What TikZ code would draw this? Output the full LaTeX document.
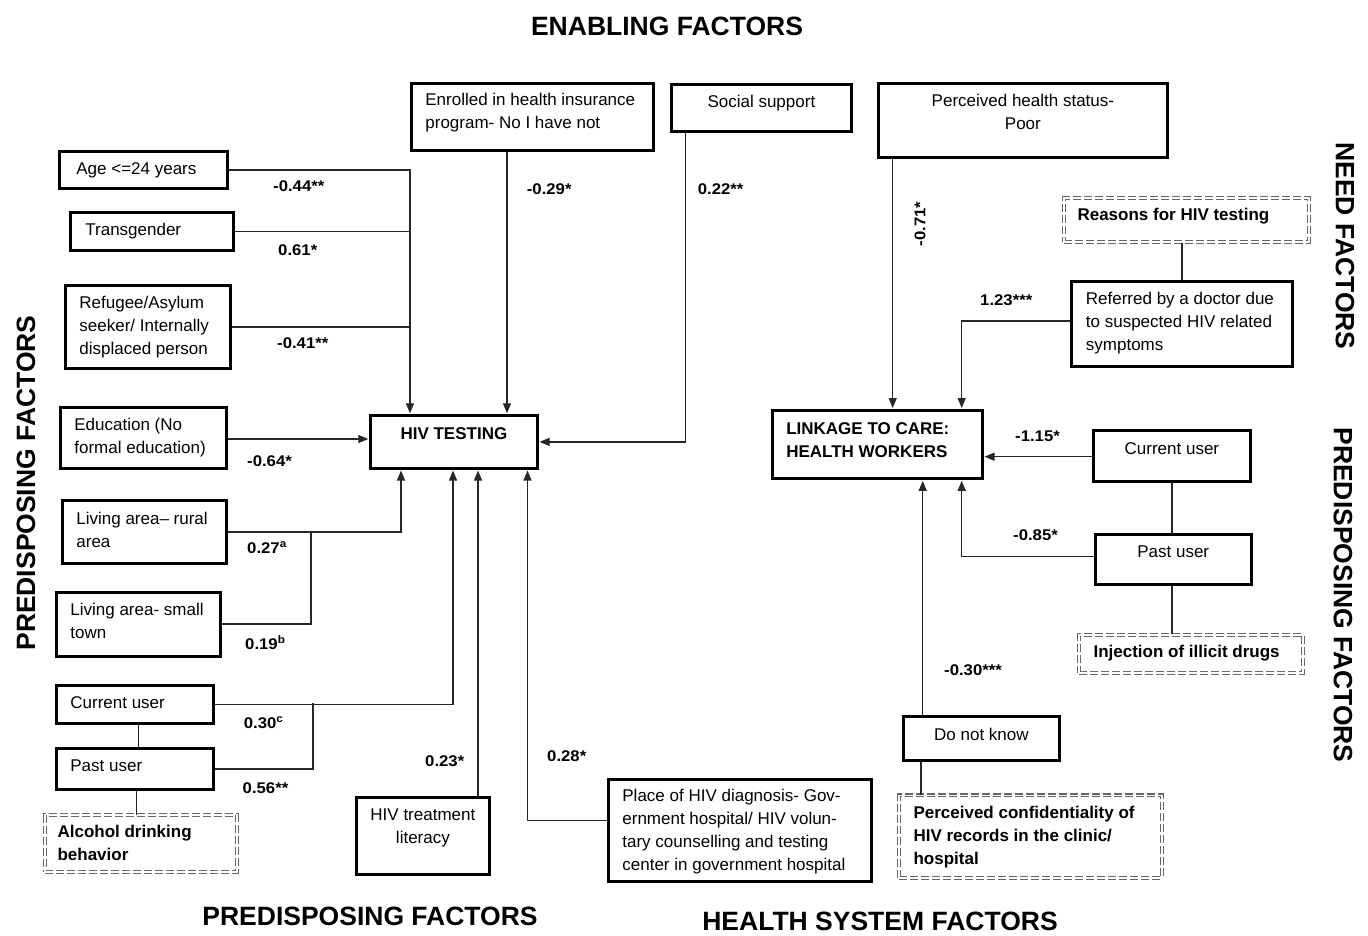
\documentclass[tikz,border=0pt]{standalone}
\usepackage{fontspec}
\setmainfont{Liberation Sans}
\newfontfamily\lblfamily{Liberation Sans}[FakeStretch=1.08]
\usetikzlibrary{arrows.meta,calc}
\newcommand{\bodyf}{\fontsize{17}{23}\selectfont}
\newcommand{\lblf}{\lblfamily\bfseries\fontsize{15.5}{18}\selectfont}
\newcommand{\ttlf}{\bfseries\fontsize{26.5}{30}\selectfont}
% left-aligned box text: width, height, padleft, baseline offset, text
\newcommand{\btl}[5]{\parbox[c][#2pt][t]{#1pt}{\vspace*{\dimexpr#4pt-14pt\relax}\raggedright\leftskip=#3pt\relax\hyphenpenalty=10000 \rule{0pt}{14pt}#5\par}}
% centred box text: width, height, baseline offset, text
\newcommand{\btc}[4]{\parbox[c][#2pt][t]{#1pt}{\vspace*{\dimexpr#3pt-14pt\relax}\centering\hyphenpenalty=10000 \rule{0pt}{14pt}#4\par}}
\begin{document}
\begin{tikzpicture}[x=1pt,y=-1pt,
  box/.style={draw=black, line width=2.8pt, inner sep=0pt, anchor=north west, font=\bodyf},
  bbox/.style={box, font=\bodyf\bfseries},
  dbox/.style={draw=black!60, double=white, double distance=1.8pt, line width=1.1pt,
               dash pattern=on 8pt off 3pt, inner sep=0pt, anchor=north west, font=\bodyf\bfseries},
  lbl/.style={inner sep=0pt, anchor=base west, font=\lblf},
  ttl/.style={inner sep=0pt, font=\ttlf},
  conn/.style={draw=black!85, line width=1.2pt},
  arr/.style={-{Triangle[length=10pt,width=8pt]}, shorten >=1pt}]
\useasboundingbox (0,0) rectangle (1368,935);
\fill[white] (0,0) rectangle (1368,935);

% titles
\node[ttl, anchor=base] (tEnab) at (667,35) {ENABLING FACTORS};
\node[ttl, rotate=90] (tPredL) at (26,483) {PREDISPOSING FACTORS};
\node[ttl, rotate=-90] (tNeed) at (1345,246) {NEED FACTORS};
\node[ttl, rotate=-90] (tPredR) at (1343,595) {PREDISPOSING FACTORS};
\node[ttl, anchor=base] (tPredB) at (370,925) {PREDISPOSING FACTORS};
\node[ttl, anchor=base] (tHealth) at (880,930) {HEALTH SYSTEM FACTORS};

% left predisposing boxes
\node[box] (age) at (58.3,150.3) {\btl{167.4}{36.4}{16.7}{22.7}{Age <=24 years}};
\node[box] (trans) at (69.3,211.3) {\btl{162.4}{37.4}{14.7}{22.7}{Transgender}};
\node[box] (refugee) at (64.3,284.3) {\btl{164.4}{82.4}{13.7}{22.7}{Refugee/Asylum\\seeker/ Internally\\displaced person}};
\node[box] (edu) at (59.3,406.3) {\btl{165.4}{60.4}{13.7}{22.7}{Education (No\\formal education)}};
\node[box] (rural) at (61.3,499.3) {\btl{163.4}{62.4}{13.7}{23.7}{Living area– rural\\area}};
\node[box] (town) at (55.3,591.3) {\btl{163.4}{63.4}{13.7}{22.7}{Living area- small\\town}};
\node[box] (curL) at (55.3,684.3) {\btl{156.4}{37.4}{13.7}{22.7}{Current user}};
\node[box] (pastL) at (55.3,747.3) {\btl{156.4}{40.4}{13.7}{22.7}{Past user}};
\node[dbox] (alcohol) at (44.6,814.6) {\btl{191.8}{56.8}{12.4}{22.4}{Alcohol drinking\\behavior}};

% bottom boxes
\node[box] (literacy) at (355.3,796.3) {\btc{132.4}{76.4}{22.7}{HIV treatment\\literacy}};
\node[box] (place) at (607.3,778.3) {\btl{262.4}{101.4}{13.7}{21.7}{Place of HIV diagnosis- Gov-\\ernment hospital/ HIV volun-\\tary counselling and testing\\center in government hospital}};

% outcome boxes
\node[bbox] (hiv) at (369.3,414.3) {\btc{166.4}{52.4}{23.7}{HIV TESTING}};
\node[bbox] (linkage) at (770.9,409) {\btl{209.8}{68}{14}{24}{LINKAGE TO CARE:\\HEALTH WORKERS}};

% enabling / need boxes
\node[box] (enrolled) at (410.3,82.3) {\btl{241.4}{66.4}{13.7}{22}{Enrolled in health insurance\\program- No I have not}};
\node[box] (social) at (670.3,83.3) {\btc{179.4}{46.4}{22.7}{Social support}};
\node[box] (perceived) at (877.3,82.3) {\btc{288.4}{73.4}{22.7}{Perceived health status-\\Poor}};
\node[dbox] (reasons) at (1063.6,197.6) {\btl{244.8}{43.8}{13.4}{22.4}{Reasons for HIV testing}};
\node[box] (referred) at (1070.3,280.3) {\btl{220.4}{84.4}{14.2}{23}{Referred by a doctor due\\to suspected HIV related\\symptoms}};

% right predisposing / health system boxes
\node[box] (curR) at (1092.3,429.3) {\btc{156.4}{51}{23.7}{Current user}};
\node[box] (pastR) at (1094,533) {\btc{155.7}{49.7}{22.7}{Past user}};
\node[dbox] (inject) at (1078.6,634.3) {\btl{223.8}{38.1}{14.4}{22.7}{Injection of illicit drugs}};
\node[box] (dontknow) at (902.3,715.3) {\btc{155.4}{43.4}{23.7}{Do not know}};
\node[dbox] (conf) at (898.6,794.9) {\btl{262.5}{82.5}{14.4}{23.1}{Perceived confidentiality of\\HIV records in the clinic/\\hospital}};

% junctions
\coordinate (j1) at (311,532);
\coordinate (j2) at (313,703);

% connectors to HIV testing
\draw[conn,arr] (age.east) -| (hiv.north -| 410,0);
\draw[conn] (trans.east) -- (trans.east -| 410,0);
\draw[conn] (refugee.east) -- (refugee.east -| 410,0);
\draw[conn,arr] (enrolled.south -| 507,0) -- (hiv.north -| 507,0);
\draw[conn,arr] (social.south -| 685.7,0) |- (hiv.east);
\draw[conn,arr] (edu.east |- 0,439) -- (hiv.west |- 0,439);
\draw[conn,arr] (rural.east |- 0,532) -| (hiv.south -| 401,0);
\draw[conn] (town.east |- 0,624) -| (j1);
\draw[conn,arr] (curL.east) -| (hiv.south -| 453,0);
\draw[conn] (pastL.east |- 0,769) -| (j2);
\draw[conn] (curL.south -| 138.6,0) -- (pastL.north -| 138.6,0);
\draw[conn] (pastL.south -| 136.4,0) -- (alcohol.north -| 136.4,0);
\draw[conn,arr] (literacy.north -| 478,0) -- (hiv.south -| 478,0);
\draw[conn,arr] (place.west |- 0,820.7) -| (hiv.south -| 527.5,0);

% connectors to linkage
\draw[conn,arr] (perceived.south -| 892.7,0) -- (linkage.north -| 892.7,0);
\draw[conn] (reasons.south -| 1182,0) -- (referred.north -| 1182,0);
\draw[conn,arr] (referred.west |- 0,321) -| (linkage.north -| 961.7,0);
\draw[conn,arr] (curR.west |- 0,456.7) -- (linkage.east |- 0,456.7);
\draw[conn] (curR.south -| 1172,0) -- (pastR.north -| 1172,0);
\draw[conn,arr] (pastR.west |- 0,556.7) -| (linkage.south -| 961.7,0);
\draw[conn] (pastR.south -| 1172,0) -- (inject.north -| 1172,0);
\draw[conn,arr] (dontknow.north -| 922.7,0) -- (linkage.south -| 922.7,0);
\draw[conn] (dontknow.south -| 921,0) -- (conf.north -| 921,0);

% coefficient labels
\node[lbl] (l1) at (273,191) {-0.44**};
\node[lbl] (l2) at (278,255) {0.61*};
\node[lbl] (l3) at (277,348) {-0.41**};
\node[lbl] (l4) at (526.7,194) {-0.29*};
\node[lbl] (l5) at (697.7,194) {0.22**};
\node[lbl] (l6) at (247,466) {-0.64*};
\node[lbl] (l7) at (247,553) {0.27\textsuperscript{a}};
\node[lbl] (l8) at (245,649) {0.19\textsuperscript{b}};
\node[lbl] (l9) at (243.6,728) {0.30\textsuperscript{c}};
\node[lbl] (l10) at (242.5,793) {0.56**};
\node[lbl] (l11) at (425,766) {0.23*};
\node[lbl] (l12) at (547,761) {0.28*};
\node[lbl, rotate=90, anchor=center] (l13) at (920,224) {-0.71*};
\node[lbl] (l14) at (980,305) {1.23***};
\node[lbl] (l15) at (1015,441.7) {-1.15*};
\node[lbl] (l16) at (1013,540.7) {-0.85*};
\node[lbl] (l17) at (944,675) {-0.30***};
\end{tikzpicture}
\end{document}
